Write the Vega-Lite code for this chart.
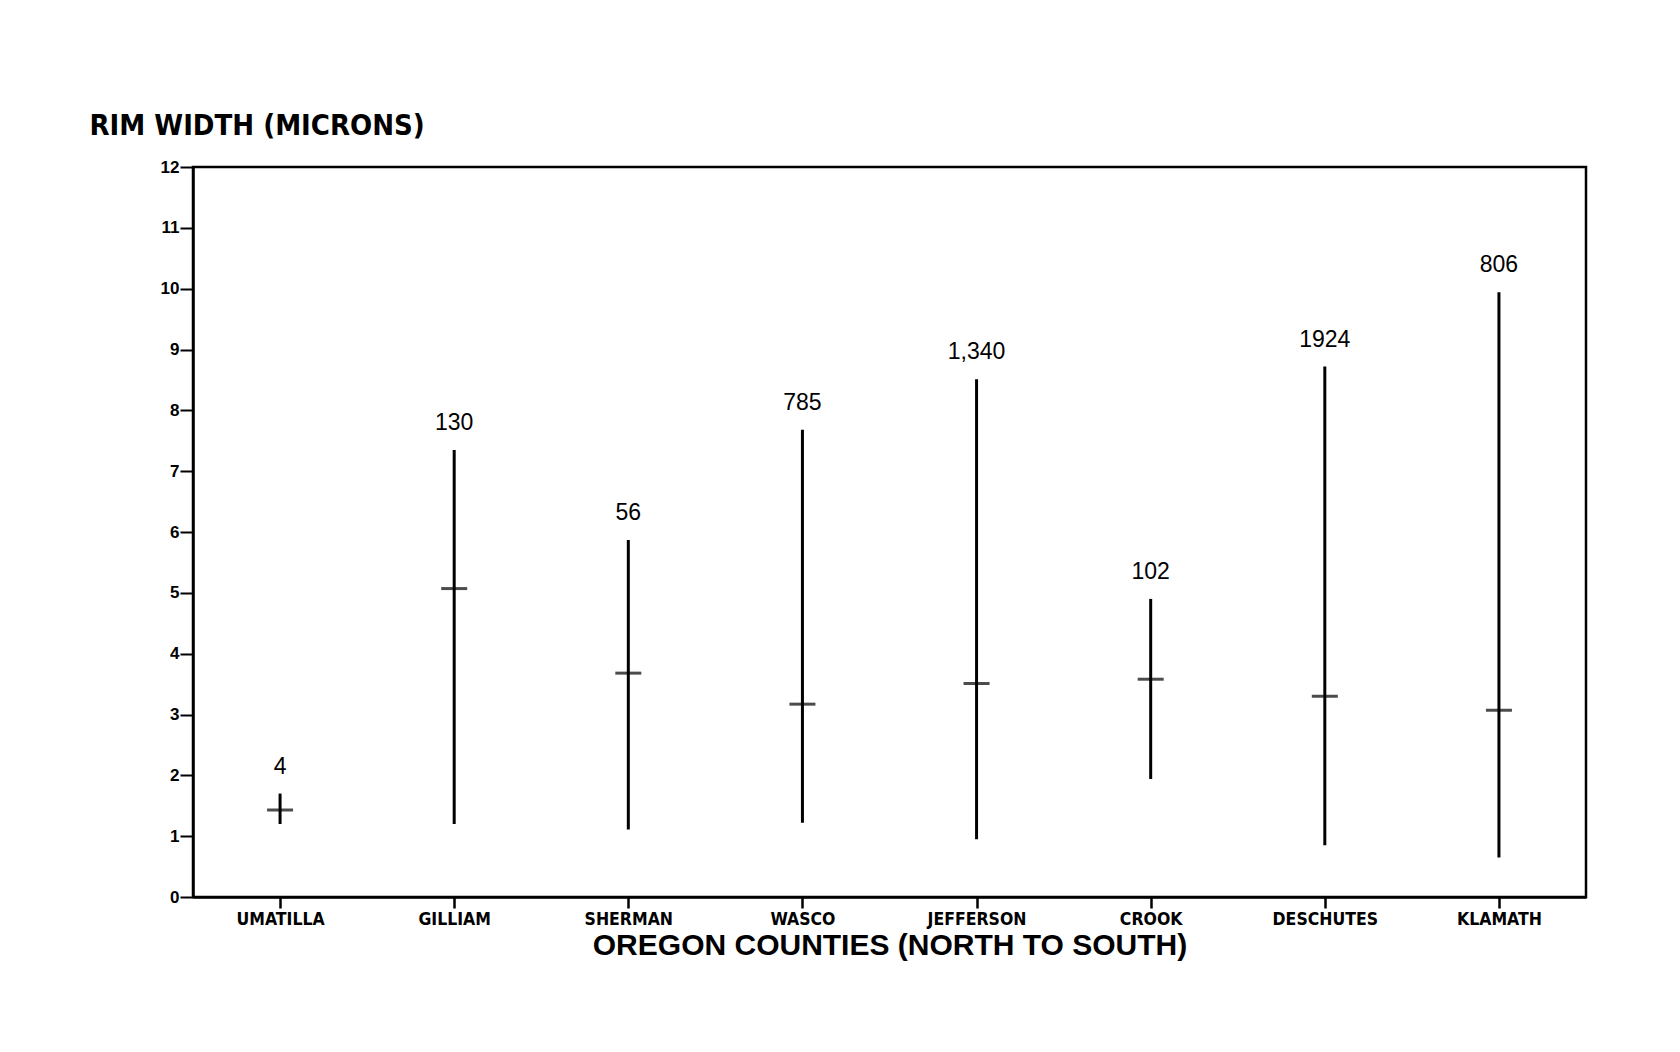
{
  "$schema": "https://vega.github.io/schema/vega-lite/v6.json",
  "width": 1393,
  "height": 730,
  "autosize": {"type": "none"},
  "padding": {"left": 193, "top": 167, "right": 94, "bottom": 155},
  "background": "white",
  "config": {
    "view": {"stroke": "black", "strokeWidth": 2.5},
    "font": "Liberation Sans"
  },
  "data": {
    "values": [
      {"county": "UMATILLA", "min": 1.2, "max": 1.7, "mean": 1.43, "n": "4"},
      {"county": "GILLIAM", "min": 1.2, "max": 7.35, "mean": 5.07, "n": "130"},
      {"county": "SHERMAN", "min": 1.11, "max": 5.87, "mean": 3.68, "n": "56"},
      {"county": "WASCO", "min": 1.22, "max": 7.68, "mean": 3.17, "n": "785"},
      {"county": "JEFFERSON", "min": 0.95, "max": 8.51, "mean": 3.51, "n": "1,340"},
      {"county": "CROOK", "min": 1.94, "max": 4.9, "mean": 3.58, "n": "102"},
      {"county": "DESCHUTES", "min": 0.85, "max": 8.72, "mean": 3.3, "n": "1924"},
      {"county": "KLAMATH", "min": 0.65, "max": 9.94, "mean": 3.07, "n": "806"}
    ]
  },
  "encoding": {
    "x": {
      "field": "county",
      "type": "nominal",
      "sort": null,
      "scale": {"type": "point", "padding": 0.5},
      "axis": {
        "labelAngle": 0,
        "labelFont": "DejaVu Sans Condensed, Liberation Sans",
        "labelFontWeight": "bold",
        "labelFontSize": 17.5,
        "labelColor": "black",
        "labelPadding": 2,
        "tickSize": 11,
        "tickWidth": 2.5,
        "tickColor": "black",
        "domainColor": "black",
        "domainWidth": 2.5,
        "title": "OREGON COUNTIES (NORTH TO SOUTH)",
        "titleFont": "Liberation Sans",
        "titleFontSize": 30,
        "titleFontWeight": "bold",
        "titleColor": "black",
        "titleY": 48,
        "titleBaseline": "middle"
      }
    }
  },
  "layer": [
    {
      "mark": {"type": "rule", "strokeWidth": 3, "color": "black"},
      "encoding": {
        "y": {
          "field": "min",
          "type": "quantitative",
          "scale": {"domain": [0, 12], "nice": false},
          "axis": {
            "values": [0, 1, 2, 3, 4, 5, 6, 7, 8, 9, 10, 11, 12],
            "format": "d",
            "grid": false,
            "tickSize": 13,
            "tickWidth": 2,
            "tickColor": "black",
            "domainColor": "black",
            "domainWidth": 2.5,
            "labelFont": "Liberation Sans",
            "labelFontWeight": "bold",
            "labelFontSize": 17,
            "labelColor": "black",
            "labelPadding": 1,
            "title": "RIM WIDTH (MICRONS)",
            "titleAngle": 0,
            "titleAlign": "left",
            "titleBaseline": "middle",
            "titleX": -104,
            "titleY": -42,
            "titleFont": "DejaVu Sans Condensed, Liberation Sans",
            "titleFontSize": 29,
            "titleFontWeight": "bold",
            "titleColor": "black"
          }
        },
        "y2": {"field": "max"}
      }
    },
    {
      "mark": {"type": "tick", "thickness": 3, "size": 26, "color": "black"},
      "encoding": {"y": {"field": "mean", "type": "quantitative"}}
    },
    {
      "mark": {"type": "text", "dy": -27, "fontSize": 23, "baseline": "middle", "color": "black", "font": "Liberation Sans"},
      "encoding": {
        "y": {"field": "max", "type": "quantitative"},
        "text": {"field": "n"}
      }
    }
  ]
}
